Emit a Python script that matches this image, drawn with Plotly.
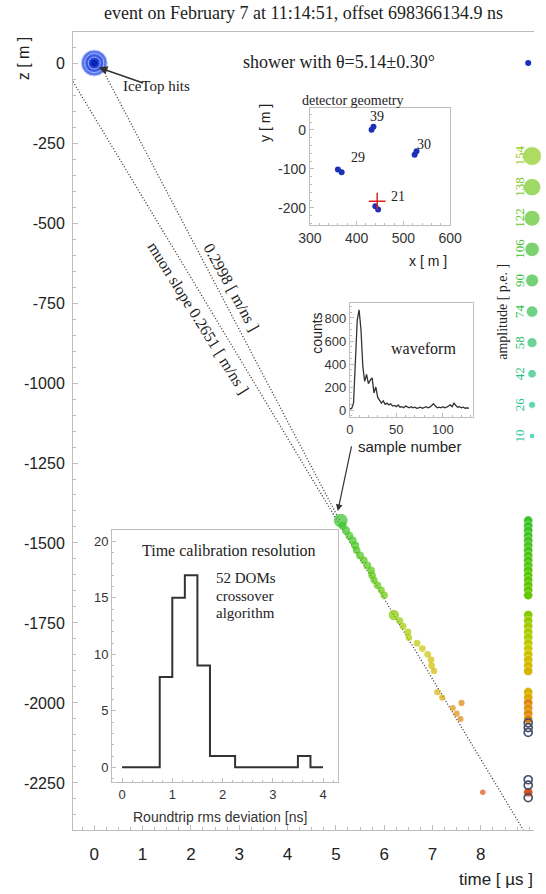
import plotly.graph_objects as go

# ---------------- data ----------------
# in-ice hits: time [us], depth z [m], amplitude [p.e.]
HIT_T = [5.10, 5.14, 5.21, 5.28, 5.35, 5.40, 5.43, 5.50, 5.58, 5.65, 5.73, 5.75, 5.79, 5.86, 5.94, 6.00,
         6.20, 6.32, 6.39, 6.49, 6.51, 6.68, 6.79, 6.90, 6.97, 6.98, 7.03,
         7.10, 7.20, 7.60, 7.42, 7.50, 7.58,
         8.04]
HIT_Z = [-1430, -1446, -1461, -1477, -1492, -1508, -1523, -1539, -1554, -1570, -1585, -1601, -1616, -1632, -1647, -1663,
         -1725, -1743, -1760, -1778, -1795, -1813, -1830, -1848, -1865, -1883, -1900,
         -1966, -1983, -2000, -2016, -2033, -2050,
         -2279]
HIT_AMP = [110, 40, 45, 40, 38, 42, 36, 40, 35, 38, 34, 36, 32, 35, 30, 33,
           70, 30, 28, 30, 26, 28, 25, 27, 24, 26, 22,
           22, 20, 20, 18, 20, 18,
           12]
UNHIT_Z = [-2062, -2077, -2092, -2240, -2257, -2296]
ICETOP_T = [0.0]
ICETOP_Z = [0.0]
LIGHT_T = [0.24, 5.08]
LIGHT_Z = [-40, -1430]
MUON_T = [-0.44, 8.88]
MUON_Z = [-58, -2397]
AMP_LEVELS = [10, 26, 42, 58, 74, 90, 106, 122, 138, 154]

# detector geometry inset
GEO_X = [432, 436, 524, 528, 360, 368, 440, 446]
GEO_Y = [0, 8, -64, -55, -102, -109, -196, -204]
STRING_IDS = ["39", "30", "29", "21"]
STRING_LX = [444, 544, 404, 488]
STRING_LY = [34, -38, -72, -170]
SEED_X = [444]
SEED_Y = [-183]

# waveform inset
WF_SAMPLE = list(range(0, 130, 2))
WF_COUNTS = [10, 15, 60, 400, 780, 870, 700, 380, 250, 310, 230, 260, 280, 150, 200, 110,
             90, 60, 80, 50, 60, 45, 55, 35, 40, 30, 45, 25, 30, 20, 35, 25,
             20, 30, 20, 25, 15, 20, 25, 15, 20, 30, 20, 25, 40, 55, 35, 20,
             25, 20, 30, 20, 25, 35, 45, 30, 60, 40, 25, 30, 20, 25, 15, 20, 15]

# time calibration histogram
HIST_EDGES = [0, 0.25, 0.5, 0.75, 1.0, 1.25, 1.5, 1.75, 2.0, 2.25, 2.5, 2.75, 3.0, 3.25, 3.5, 3.75, 4.0]
HIST_COUNTS = [0, 0, 0, 8, 15, 17, 9, 1, 1, 0, 0, 0, 0, 0, 1, 0]

# ---------------- layout helpers ----------------
W, H = 546, 894
ML, MR, MT, MB = 73, 0, 32, 64
PW, PH = W - ML - MR, H - MT - MB


def px(x):
    return (x - ML) / PW


def py(y):
    return (H - MB - y) / PH


SANS = "Liberation Sans, Arial, sans-serif"
SERIF = "Liberation Serif, Times New Roman, serif"
COL_T = 8.98
LEG_T = 9.06
X_RANGE = [-0.44, 9.1]
AX_GREY = "#bdbdbd"

CSCALE = [[0, "#34c22c"], [0.3, "#62c800"], [0.45, "#a6cc00"], [0.58, "#ccc800"],
          [0.72, "#dca400"], [0.86, "#e07a10"], [1, "#e04a1c"]]
LEG_COLORS = ["#1ec8a0", "#22c492", "#28c27e", "#2ec06a", "#34c052", "#3cc040",
              "#46c030", "#5cc428", "#78c824", "#90cc22"]


def amp_size(a):
    return 4.5 + 0.085 * a


fig = go.Figure()

# lines
fig.add_trace(go.Scatter(x=LIGHT_T, y=LIGHT_Z, mode="lines",
                         line=dict(color="#333", width=1.3, dash="1px,2px"), hoverinfo="skip"))
fig.add_trace(go.Scatter(x=MUON_T, y=MUON_Z, mode="lines",
                         line=dict(color="#333", width=1.3, dash="1px,2px"), hoverinfo="skip"))

# IceTop hits (nested circles)
for s, c, lc in [(26, "#5a78ec", "#c8d2ff"), (19, "#3c5ae4", "#a8b8ff"), (12, "#2444d8", "#9cb0ff"), (6, "#0a22b0", "#0a22b0")]:
    fig.add_trace(go.Scatter(x=ICETOP_T, y=ICETOP_Z, mode="markers",
                             marker=dict(size=s, color=c, line=dict(color=lc, width=1))))
# IceTop projected in column
fig.add_trace(go.Scatter(x=[COL_T] * len(ICETOP_Z), y=ICETOP_Z, mode="markers",
                         marker=dict(size=6, color="#1830c0")))

# in-ice hits
fig.add_trace(go.Scatter(x=HIT_T, y=HIT_Z, mode="markers",
                         marker=dict(size=[amp_size(a) for a in HIT_AMP], color=HIT_T,
                                     colorscale=CSCALE, cmin=5.05, cmax=8.1, line=dict(width=0))))
# column projection
fig.add_trace(go.Scatter(x=[COL_T] * len(HIT_Z), y=HIT_Z, mode="markers",
                         marker=dict(size=9, color=HIT_T, colorscale=CSCALE, cmin=5.05, cmax=8.1,
                                     line=dict(width=0.6, color="rgba(255,255,255,0.6)"))))
fig.add_trace(go.Scatter(x=[COL_T] * len(UNHIT_Z), y=UNHIT_Z, mode="markers",
                         marker=dict(size=8, color="rgba(0,0,0,0)", line=dict(color="#48506a", width=1.7))))

# amplitude legend column (xaxis5 / yaxis5)
fig.add_trace(go.Scatter(x=[LEG_T] * len(AMP_LEVELS), y=AMP_LEVELS, mode="markers",
                         xaxis="x5", yaxis="y5", cliponaxis=False,
                         marker=dict(size=[amp_size(a) * 1.08 for a in AMP_LEVELS], color=LEG_COLORS)))

# geometry inset
fig.add_trace(go.Scatter(x=GEO_X, y=GEO_Y, mode="markers", xaxis="x2", yaxis="y2",
                         marker=dict(size=6, color="#1c30b8")))
fig.add_trace(go.Scatter(x=SEED_X, y=SEED_Y, mode="markers", xaxis="x2", yaxis="y2",
                         marker=dict(symbol="cross-thin", size=12, line=dict(color="#e02020", width=1.5))))

# waveform inset
fig.add_trace(go.Scatter(x=WF_SAMPLE, y=WF_COUNTS, mode="lines", xaxis="x3", yaxis="y3",
                         line=dict(color="#333", width=1.3)))

# histogram inset
fig.add_trace(go.Scatter(x=HIST_EDGES, y=HIST_COUNTS + [HIST_COUNTS[-1]], mode="lines",
                         xaxis="x4", yaxis="y4", line=dict(color="#333", width=2, shape="hv")))

ann = []


def txt(x, y, t, size=13, fam=SERIF, color="#222", angle=0, xa="center", ya="middle", xref="paper", yref="paper"):
    ann.append(dict(x=x, y=y, text=t, showarrow=False, xref=xref, yref=yref, textangle=angle,
                    xanchor=xa, yanchor=ya, font=dict(family=fam, size=size, color=color)))


txt(px(310), py(13), "event on February 7 at 11:14:51, offset 698366134.9 ns", 18)
txt(px(346), py(62), "shower with θ=5.14±0.30°", 18)
txt(px(122), py(86), "IceTop hits", 15, xa="left")
txt(px(22), py(58), "z [ m ]", 16, fam=SANS, angle=-90)
txt(px(507), py(879), "time [ µs ]", 17, fam=SANS)
txt(px(236), py(287), "0.2998 [ m/ns ]", 16, angle=61)
txt(px(201), py(318), "muon slope 0.2651 [ m/ns ]", 16, angle=58)
txt(px(513), py(312), "amplitude [ p.e. ]", 14, angle=-90)
for a, c in zip(AMP_LEVELS, LEG_COLORS):
    txt(8.8, a, str(a), 13, color=c, angle=-90, xref="x5", yref="y5")

# geometry inset texts
txt(px(360), py(100), "detector geometry", 14)
txt(px(437), py(261), "x [ m ]", 14, fam=SANS)
txt(px(270), py(123), "y [ m ]", 14, fam=SANS, angle=-90)
for sx, sy, sid in zip(STRING_LX, STRING_LY, STRING_IDS):
    txt(sx, sy, sid, 14, xref="x2", yref="y2")

# waveform texts
txt(px(433), py(348), "waveform", 16)
txt(px(323), py(333), "counts", 14, fam=SANS, angle=-90)
txt(px(418), py(446), "sample number", 15, fam=SANS)

# histogram texts
txt(px(233), py(550), "Time calibration resolution", 16)
txt(px(218), py(578), "52 DOMs", 15, xa="left")
txt(px(218), py(596), "crossover", 15, xa="left")
txt(px(218), py(613), "algorithm", 15, xa="left")
txt(px(224), py(817), "Roundtrip rms deviation [ns]", 14, fam=SANS, color="#333")

# arrows
ann.append(dict(x=0.09, y=-14, xref="x", yref="y", ax=46, ay=16, showarrow=True, text="",
                arrowhead=2, arrowsize=1.1, arrowwidth=1.6, arrowcolor="#333"))
ann.append(dict(x=5.04, y=-1400, xref="x", yref="y", ax=14, ay=-66, showarrow=True, text="",
                arrowhead=2, arrowsize=1.1, arrowwidth=1.2, arrowcolor="#333"))


def inset_axes(dom_x, dom_y, rng_x, rng_y, tvx, tvy, tty, anchor_x, anchor_y, fs=13, mdx=None, mdy=None):
    xa = dict(domain=dom_x, range=rng_x, anchor=anchor_y, showline=True, mirror=True, linecolor=AX_GREY,
              ticks="inside", ticklen=4, tickcolor=AX_GREY, tickvals=tvx, showgrid=False, zeroline=False,
              tickfont=dict(family=SANS, size=fs, color="#333"))
    ya = dict(domain=dom_y, range=rng_y, anchor=anchor_x, showline=True, mirror=True, linecolor=AX_GREY,
              ticks="inside", ticklen=4, tickcolor=AX_GREY, tickvals=tvy, ticktext=tty, showgrid=False,
              zeroline=False, tickfont=dict(family=SANS, size=fs, color="#333"))
    if mdx:
        xa["minor"] = dict(dtick=mdx, ticks="inside", ticklen=2, tickcolor=AX_GREY)
    if mdy:
        ya["minor"] = dict(dtick=mdy, ticks="inside", ticklen=2, tickcolor=AX_GREY)
    return xa, ya


x2, y2 = inset_axes([px(316), px(460)], [py(225), py(108)], [300, 600], [-244, 56],
                    [300, 400, 500, 600], [0, -100, -200], ["0", "-100", "-200"], "x2", "y2", 14, 20, 20)
x3, y3 = inset_axes([px(357), px(483)], [py(417), py(303)], [0, 132], [-60, 930],
                    [0, 50, 100], [0, 200, 400, 600, 800], ["0", "200", "400", "600", "800"], "x3", "y3", 13, 10, 50)
x4, y4 = inset_axes([px(113), px(345)], [py(782), py(530)], [-0.2, 4.3], [-1.3, 21],
                    [0, 1, 2, 3, 4], [0, 5, 10, 15, 20], ["0", "5", "10", "15", "20"], "x4", "y4", 13, 0.2, 1)

fig.update_layout(
    width=W, height=H, margin=dict(l=ML, r=MR, t=MT, b=MB),
    paper_bgcolor="white", plot_bgcolor="rgba(0,0,0,0)", showlegend=False,
    xaxis=dict(domain=[0, 1], range=X_RANGE, showline=True, mirror=True, linecolor=AX_GREY,
               ticks="inside", ticklen=5, tickcolor=AX_GREY, tickvals=list(range(0, 9)),
               minor=dict(dtick=0.25, ticks="inside", ticklen=3, tickcolor=AX_GREY),
               showgrid=False, zeroline=False, ticklabelstandoff=9,
               tickfont=dict(family=SANS, size=17, color="#222")),
    yaxis=dict(domain=[0, 1], range=[-2397, 97], showline=True, mirror=False, linecolor=AX_GREY,
               ticks="inside", ticklen=5, tickcolor=AX_GREY,
               tickvals=[0, -250, -500, -750, -1000, -1250, -1500, -1750, -2000, -2250],
               ticktext=["0", "-250", "-500", "-750", "-1000", "-1250", "-1500", "-1750", "-2000", "-2250"],
               minor=dict(dtick=50, ticks="inside", ticklen=3, tickcolor=AX_GREY),
               showgrid=False, zeroline=False, ticklabelstandoff=4,
               tickfont=dict(family=SANS, size=16, color="#222")),
    xaxis2=x2, yaxis2=y2, xaxis3=x3, yaxis3=y3, xaxis4=x4, yaxis4=y4,
    xaxis5=dict(domain=[0, 1], range=X_RANGE, anchor="y5", visible=False),
    yaxis5=dict(domain=[py(451), py(141)], range=[2.26, 161.74], anchor="x5", visible=False),
    annotations=ann,
)

fig.write_html("out.html")
